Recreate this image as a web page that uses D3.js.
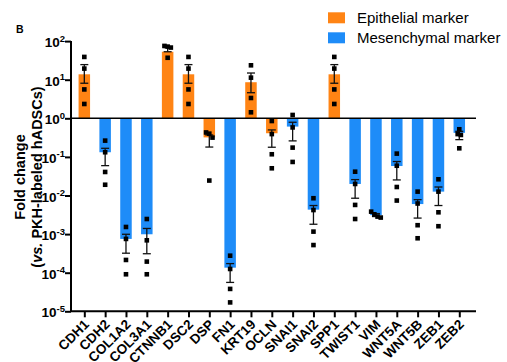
<!DOCTYPE html>
<html>
<head>
<meta charset="utf-8">
<script src="https://cdn.jsdelivr.net/npm/d3@7"></script>
<style>
  body { margin: 0; background: #fff; }
  svg { display: block; font-family: "Liberation Sans", Arial, sans-serif; }
</style>
</head>
<body>
<div id="graph"></div>
<script>
(function(){
	"use strict";

	// genes on the x axis, and which group each one belongs to
	var genes = ["CDH1","CDH2","COL1A2","COL3A1","CTNNB1","DSC2","DSP","FN1","KRT19","OCLN",
		"SNAI1","SNAI2","SPP1","TWIST1","VIM","WNT5A","WNT5B","ZEB1","ZEB2"];
	var groups = ["epi","mes","mes","mes","epi","epi","epi","mes","epi","epi",
		"mes","mes","epi","mes","mes","mes","mes","mes","mes"];

	// mean fold change (bar height)
	var means = [13.8, 0.132, 7.5e-4, 9.9e-4, 53, 13.8, 0.32, 1.35e-4, 8.6, 0.41,
		0.61, 4.3e-3, 13.8, 0.0199, 3.1e-3, 0.058, 6.0e-3, 0.0126, 0.42];
	// error bar ends (mean +/- SEM)
	var errHigh = [24.6, 0.167, 9.9e-4, 1.4e-3, 68, 24.6, 0.37, 1.72e-4, 14.9, 0.50,
		0.79, 5.5e-3, 24.6, 0.0258, 3.4e-3, 0.0758, 7.8e-3, 0.0166, 0.46];
	var errLow = [8.1, 0.0594, 3.2e-4, 3.1e-4, 53, 8.1, 0.18, 5.6e-5, 4.6, 0.178,
		0.26, 1.8e-3, 8.1, 8.5e-3, 2.85e-3, 0.0253, 2.6e-3, 5.5e-3, 0.28];
	// individual replicates (4 per gene)
	var points = [
		[38.9, 19.4, 5.6, 2.35],
		[0.264, 0.132, 0.0407, 0.019],
		[1.53e-3, 7.5e-4, 2.14e-4, 9.1e-5],
		[2.46e-3, 6.9e-4, 1.94e-4, 9.1e-5],
		[75, 68, 72, 37],
		[38.9, 19.4, 5.6, 2.35],
		[0.40, 0.316, 0.43, 0.0244],
		[2.76e-4, 1.25e-4, 3.8e-5, 1.7e-5],
		[23.6, 11.3, 3.36, 1.43],
		[0.85, 0.39, 0.117, 0.0507],
		[1.22, 0.58, 0.174, 0.074],
		[8.5e-3, 4.2e-3, 1.16e-3, 5.2e-4],
		[38.9, 19.4, 5.6, 2.35],
		[0.0414, 0.0199, 5.7e-3, 2.46e-3],
		[2.84e-3, 3.26e-3, 3.82e-3, 2.68e-3],
		[0.1216, 0.059, 0.0166, 7.4e-3],
		[0.0126, 6.2e-3, 1.7e-3, 7.8e-4],
		[0.0263, 0.0126, 3.67e-3, 1.6e-3],
		[0.37, 0.39, 0.52, 0.167]
	];
	var yTicks = [1e2, 1e1, 1e0, 1e-1, 1e-2, 1e-3, 1e-4, 1e-5];
	var legendLabels = ["Epithelial marker", "Mesenchymal marker"];

	var colors = { epi: "#FF8414", mes: "#1E8CF8" };

	var width = 507, height = 362;
	var left = 71, right = 476, top = 41.1, bottom = 311.3;

	var svg = d3.select("#graph").append("svg")
		.attr("width", width)
		.attr("height", height);

	var x = d3.scalePoint()
		.domain(genes)
		.range([73.9, 469.7])
		.padding(0.5);

	var y = d3.scaleLog()
		.domain([1e-5, 1e2])
		.range([bottom, top]);

	var barW = 11.5;

	// bars grow up or down from 10^0
	svg.append("g").selectAll("rect")
		.data(genes)
		.enter().append("rect")
		.attr("x", function(d) { return x(d) - barW / 2; })
		.attr("width", barW)
		.attr("y", function(d, i) { return Math.min(y(means[i]), y(1)); })
		.attr("height", function(d, i) { return Math.abs(y(means[i]) - y(1)); })
		.attr("fill", function(d, i) { return colors[groups[i]]; });

	// error bars
	var err = svg.append("g").attr("stroke", "#111").attr("stroke-width", 1.3);
	genes.forEach(function(g, i) {
		var cx = x(g);
		err.append("line").attr("x1", cx).attr("x2", cx)
			.attr("y1", y(errLow[i])).attr("y2", y(errHigh[i]));
		[errLow[i], errHigh[i]].forEach(function(v) {
			err.append("line").attr("x1", cx - 4).attr("x2", cx + 4)
				.attr("y1", y(v)).attr("y2", y(v));
		});
	});

	// replicate dots, nudged sideways when they overlap
	var dots = svg.append("g").attr("fill", "#000");
	var sz = 4.6;
	genes.forEach(function(g, i) {
		var ps = points[i].map(function(v) { return { v: v, py: y(v), dx: 0 }; });
		ps.sort(function(a, b) { return a.py - b.py; });
		var clusters = [], cur = [ps[0]];
		for (var k = 1; k < ps.length; k++) {
			if (ps[k].py - cur[cur.length - 1].py < 4.5) cur.push(ps[k]);
			else { clusters.push(cur); cur = [ps[k]]; }
		}
		clusters.push(cur);
		clusters.forEach(function(c) {
			c.forEach(function(p, j) { p.dx = (j - (c.length - 1) / 2) * 3.2; });
		});
		ps.forEach(function(p) {
			dots.append("rect")
				.attr("x", x(g) + p.dx - sz / 2)
				.attr("y", p.py - sz / 2)
				.attr("width", sz)
				.attr("height", sz);
		});
	});

	// baseline at 10^0
	svg.append("line")
		.attr("x1", left).attr("x2", right)
		.attr("y1", y(1)).attr("y2", y(1))
		.attr("stroke", "#000").attr("stroke-width", 1.6);

	// y axis
	var yAxis = svg.append("g")
		.attr("transform", "translate(" + left + ",0)")
		.call(d3.axisLeft(y).tickValues(yTicks).tickSize(6).tickPadding(3).tickFormat(function() { return ""; }));
	yAxis.select(".domain").attr("stroke-width", 2).attr("d", "M0," + top + "V" + bottom);
	yAxis.selectAll(".tick line").attr("stroke-width", 2);
	yAxis.selectAll(".tick text").each(function(d) {
		var t = d3.select(this);
		t.attr("font-size", 13.5).attr("font-weight", "bold").attr("fill", "#000").attr("x", -6).attr("dy", "0.42em");
		t.append("tspan").text("10");
		t.append("tspan").attr("font-size", 9.5).attr("dy", "-0.6em").text(Math.round(Math.log10(d)));
	});

	// x axis
	var xAxis = svg.append("g")
		.attr("transform", "translate(0," + bottom + ")")
		.call(d3.axisBottom(x).tickSize(6).tickSizeOuter(0));
	xAxis.select(".domain").attr("stroke-width", 2).attr("d", "M" + left + ",0H" + right);
	xAxis.selectAll(".tick line").attr("stroke-width", 2);
	xAxis.selectAll(".tick text")
		.attr("font-size", 13.5).attr("font-weight", "bold").attr("fill", "#000")
		.attr("text-anchor", "end")
		.attr("y", 0).attr("dy", 0)
		.attr("transform", "translate(5,14) rotate(-45)");

	// y title
	var title = svg.append("text")
		.attr("transform", "translate(25,177) rotate(-90)")
		.attr("text-anchor", "middle")
		.attr("font-size", 14.5).attr("font-weight", "bold");
	title.append("tspan").attr("x", 0).attr("y", 0).text("Fold change");
	var t2 = title.append("tspan").attr("x", 0).attr("y", 17);
	t2.append("tspan").text("(");
	t2.append("tspan").attr("font-style", "italic").text("vs.");
	t2.append("tspan").text(" PKH-labeled hADSCs)");

	// panel letter
	svg.append("text").attr("x", 16).attr("y", 33.3)
		.attr("font-size", 10.5).attr("font-weight", "bold").text("B");

	// legend
	var legend = svg.append("g").selectAll("g")
		.data(legendLabels)
		.enter().append("g")
		.attr("transform", function(d, i) { return "translate(328," + (12.3 + i * 20) + ")"; });
	legend.append("rect")
		.attr("width", 17).attr("height", 11)
		.attr("fill", function(d, i) { return i === 0 ? colors.epi : colors.mes; });
	legend.append("text")
		.attr("x", 29).attr("y", 10.5)
		.attr("font-size", 15)
		.text(function(d) { return d; });
})();
</script>
</body>
</html>
